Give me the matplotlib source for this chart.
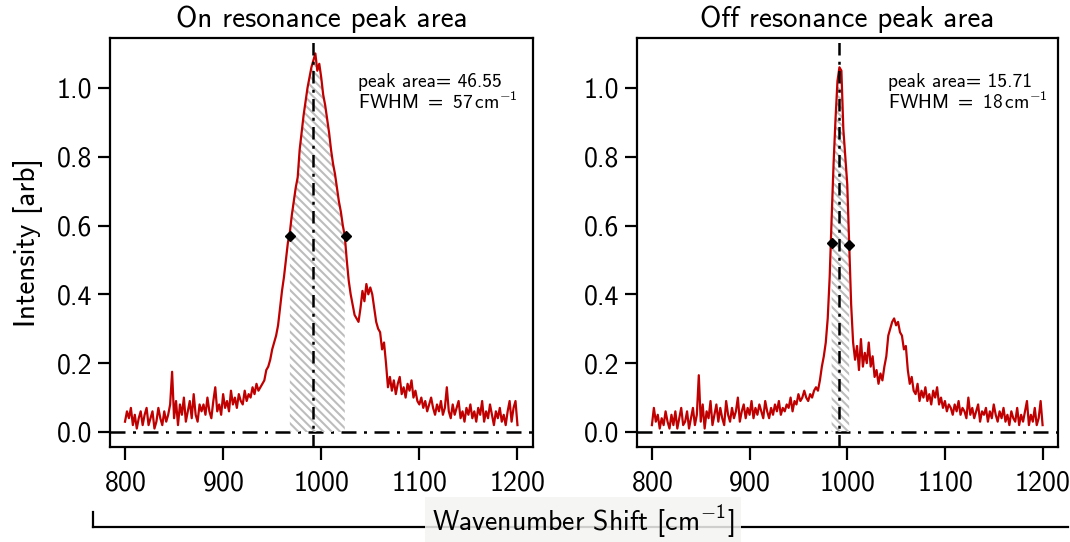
#----------------------------------------------------------------------------------------------------------------------#
# Imports
#----------------------------------------------------------------------------------------------------------------------#
import numpy as np
import matplotlib
matplotlib.use('Agg')
import matplotlib.pyplot as plt
from matplotlib.lines import Line2D

#----------------------------------------------------------------------------------------------------------------------#
# Data (2 cm^-1 steps from 800 to 1200)
#----------------------------------------------------------------------------------------------------------------------#
wavenumber = np.arange(800, 1201, 2)

on_res = [
    0.03, 0.06, 0.04, 0.07, 0.02, 0.05, 0.01, 0.04, 0.06, 0.02,   # 800
    0.05, 0.07, 0.02, 0.04, 0.06, 0.01, 0.03, 0.07, 0.04, 0.02,   # 820
    0.06, 0.03, 0.05, 0.08, 0.175, 0.04, 0.09, 0.02, 0.08, 0.05,  # 840
    0.10, 0.03, 0.06, 0.09, 0.04, 0.11, 0.05, 0.03, 0.08, 0.06,   # 860
    0.08, 0.05, 0.10, 0.06, 0.04, 0.09, 0.13, 0.06, 0.08, 0.05,   # 880
    0.11, 0.07, 0.09, 0.06, 0.12, 0.08, 0.10, 0.07, 0.11, 0.09,   # 900
    0.08, 0.12, 0.09, 0.11, 0.10, 0.13, 0.11, 0.14, 0.12, 0.13,   # 920
    0.14, 0.15, 0.18, 0.19, 0.21, 0.24, 0.26, 0.28, 0.31, 0.36,   # 940
    0.41, 0.45, 0.50, 0.55, 0.58, 0.63, 0.67, 0.71, 0.74, 0.82,   # 960
    0.87, 0.92, 0.96, 1.00, 1.03, 1.06, 1.08, 1.10, 1.05, 1.07,   # 980
    1.03, 0.98, 0.95, 0.91, 0.87, 0.82, 0.78, 0.75, 0.71, 0.67,   # 1000
    0.64, 0.60, 0.57, 0.50, 0.44, 0.40, 0.37, 0.34, 0.33, 0.32,   # 1020
    0.36, 0.41, 0.38, 0.43, 0.40, 0.42, 0.40, 0.36, 0.32, 0.30,   # 1040
    0.29, 0.24, 0.26, 0.20, 0.13, 0.16, 0.12, 0.15, 0.11, 0.14,   # 1060
    0.16, 0.11, 0.13, 0.10, 0.14, 0.12, 0.15, 0.10, 0.12, 0.09,   # 1080
    0.08, 0.10, 0.07, 0.09, 0.06, 0.08, 0.10, 0.07, 0.05, 0.08,   # 1100
    0.06, 0.09, 0.05, 0.07, 0.13, 0.06, 0.04, 0.08, 0.05, 0.07,   # 1120
    0.09, 0.04, 0.06, 0.03, 0.07, 0.05, 0.08, 0.04, 0.06, 0.03,   # 1140
    0.07, 0.05, 0.09, 0.03, 0.06, 0.04, 0.08, 0.05, 0.02, 0.06,   # 1160
    0.04, 0.07, 0.03, 0.05, 0.02, 0.06, 0.09, 0.03, 0.07, 0.09,   # 1180
    0.02,                                                          # 1200
]

off_res = [
    0.02, 0.07, 0.03, 0.05, 0.01, 0.04, 0.02, 0.06, 0.03, 0.01,   # 800
    0.05, 0.02, 0.06, 0.01, 0.04, 0.07, 0.02, 0.03, 0.06, 0.01,   # 820
    0.04, 0.07, 0.02, 0.05, 0.165, 0.03, 0.08, 0.01, 0.06, 0.04,  # 840
    0.09, 0.02, 0.05, 0.08, 0.03, 0.07, 0.04, 0.02, 0.09, 0.05,   # 860
    0.03, 0.07, 0.04, 0.06, 0.10, 0.03, 0.06, 0.08, 0.04, 0.07,   # 880
    0.05, 0.09, 0.04, 0.07, 0.05, 0.08, 0.06, 0.04, 0.09, 0.06,   # 900
    0.04, 0.07, 0.05, 0.08, 0.06, 0.09, 0.05, 0.07, 0.06, 0.08,   # 920
    0.07, 0.10, 0.06, 0.09, 0.08, 0.11, 0.09, 0.10, 0.12, 0.10,   # 940
    0.09, 0.11, 0.10, 0.12, 0.13, 0.12, 0.15, 0.19, 0.22, 0.26,   # 960
    0.33, 0.45, 0.62, 0.78, 0.91, 1.02, 1.06, 1.05, 0.88, 0.80,   # 980
    0.72, 0.54, 0.37, 0.26, 0.21, 0.25, 0.18, 0.27, 0.19, 0.23,   # 1000
    0.20, 0.26, 0.19, 0.22, 0.16, 0.18, 0.14, 0.17, 0.15, 0.19,   # 1020
    0.22, 0.28, 0.30, 0.32, 0.33, 0.31, 0.32, 0.29, 0.28, 0.24,   # 1040
    0.25, 0.18, 0.14, 0.16, 0.12, 0.11, 0.14, 0.09, 0.12, 0.10,   # 1060
    0.13, 0.09, 0.11, 0.08, 0.12, 0.10, 0.13, 0.08, 0.10, 0.07,   # 1080
    0.09, 0.06, 0.08, 0.07, 0.05, 0.08, 0.06, 0.09, 0.05, 0.07,   # 1100
    0.06, 0.04, 0.10, 0.05, 0.07, 0.04, 0.06, 0.08, 0.03, 0.06,   # 1120
    0.05, 0.07, 0.03, 0.06, 0.04, 0.08, 0.05, 0.03, 0.06, 0.04,   # 1140
    0.07, 0.03, 0.05, 0.02, 0.06, 0.04, 0.03, 0.07, 0.02, 0.05,   # 1160
    0.03, 0.06, 0.09, 0.02, 0.05, 0.03, 0.07, 0.02, 0.04, 0.09,   # 1180
    0.02,                                                          # 1200
]

titles = ['On resonance peak area', 'Off resonance peak area']
peak_centers = [992, 992]
fwhm_left = [968, 984]
fwhm_right = [1025, 1002]
fwhm_height = [[0.57, 0.57], [0.548, 0.544]]
peak_areas = [46.55, 15.71]
fwhm_values = [57, 18]

#----------------------------------------------------------------------------------------------------------------------#
# Style
#----------------------------------------------------------------------------------------------------------------------#
plt.rcParams['font.family'] = 'cmss10'
plt.rcParams['mathtext.fontset'] = 'custom'
plt.rcParams['mathtext.rm'] = 'cmss10'
plt.rcParams['mathtext.sf'] = 'cmss10'
plt.rcParams['mathtext.it'] = 'cmss10'
plt.rcParams['axes.formatter.use_mathtext'] = True
plt.rcParams['hatch.color'] = '#bdbdbd'
plt.rcParams['hatch.linewidth'] = 1.5
plt.rcParams['axes.unicode_minus'] = False

red = '#c00000'

#----------------------------------------------------------------------------------------------------------------------#
# Figure
#----------------------------------------------------------------------------------------------------------------------#
fig = plt.figure(figsize=(10.7, 5.42), dpi=100)
ax_left = fig.add_axes([0.1028, 0.1753, 0.3953, 0.7546])
ax_right = fig.add_axes([0.5953, 0.1753, 0.3935, 0.7546])

for i, ax in enumerate([ax_left, ax_right]):
    y = np.array([on_res, off_res][i])

    ax.axhline(0, color='k', lw=1.8, ls=(0, (6, 3, 1.2, 3)), zorder=1)
    ax.axvline(peak_centers[i], color='k', lw=1.8, ls=(0, (5, 2.5, 1.2, 2.5)), zorder=4)

    mask = (wavenumber >= fwhm_left[i]) & (wavenumber <= fwhm_right[i])
    ax.fill_between(wavenumber[mask], 0, y[mask], facecolor='none', hatch='\\\\\\\\',
                    edgecolor='#bdbdbd', linewidth=0, zorder=2)

    ax.plot(wavenumber, y, color=red, lw=1.6, zorder=3)
    ax.plot([fwhm_left[i], fwhm_right[i]], fwhm_height[i], 'kD', ms=5, zorder=5)

    ax.text(0.586 if i == 0 else 0.596, 0.915,
            'peak area= {:.2f}\nFWHM $=$ {:d}$\\,$cm$^{{-1}}$'.format(peak_areas[i], fwhm_values[i]),
            transform=ax.transAxes, fontsize=14, va='top', ha='left', linespacing=1.05)

    ax.set_title(titles[i], fontsize=21, pad=8)
    ax.set_xlim(784.7, 1215.8)
    ax.set_ylim(-0.0436, 1.145)
    ax.set_xticks([800, 900, 1000, 1100, 1200])
    ax.set_yticks([0.0, 0.2, 0.4, 0.6, 0.8, 1.0])
    ax.set_yticklabels(['0.0', '0.2', '0.4', '0.6', '0.8', '1.0'])
    ax.tick_params(direction='out', length=9, width=1.6, labelsize=20)
    ax.tick_params(axis='x', pad=8)
    ax.tick_params(axis='y', pad=4)
    for s in ax.spines.values():
        s.set_linewidth(1.6)

ax_left.set_ylabel('Intensity [arb]', fontsize=21, labelpad=10)

# shared x label sitting on a bracket line
fig.add_artist(Line2D([93/1070, 1068/1070], [1 - 527/542, 1 - 527/542], color='k', lw=1.6))
fig.add_artist(Line2D([93/1070, 93/1070], [1 - 527/542, 1 - 512/542], color='k', lw=1.6))
fig.text(583/1070, 1 - 522/542, 'Wavenumber Shift [cm$^{-1}$]', fontsize=20, ha='center', va='center',
         bbox=dict(boxstyle='square,pad=0.25', facecolor='#f4f4f2', edgecolor='none', alpha=0.85))

plt.savefig('out.png', dpi=100)
